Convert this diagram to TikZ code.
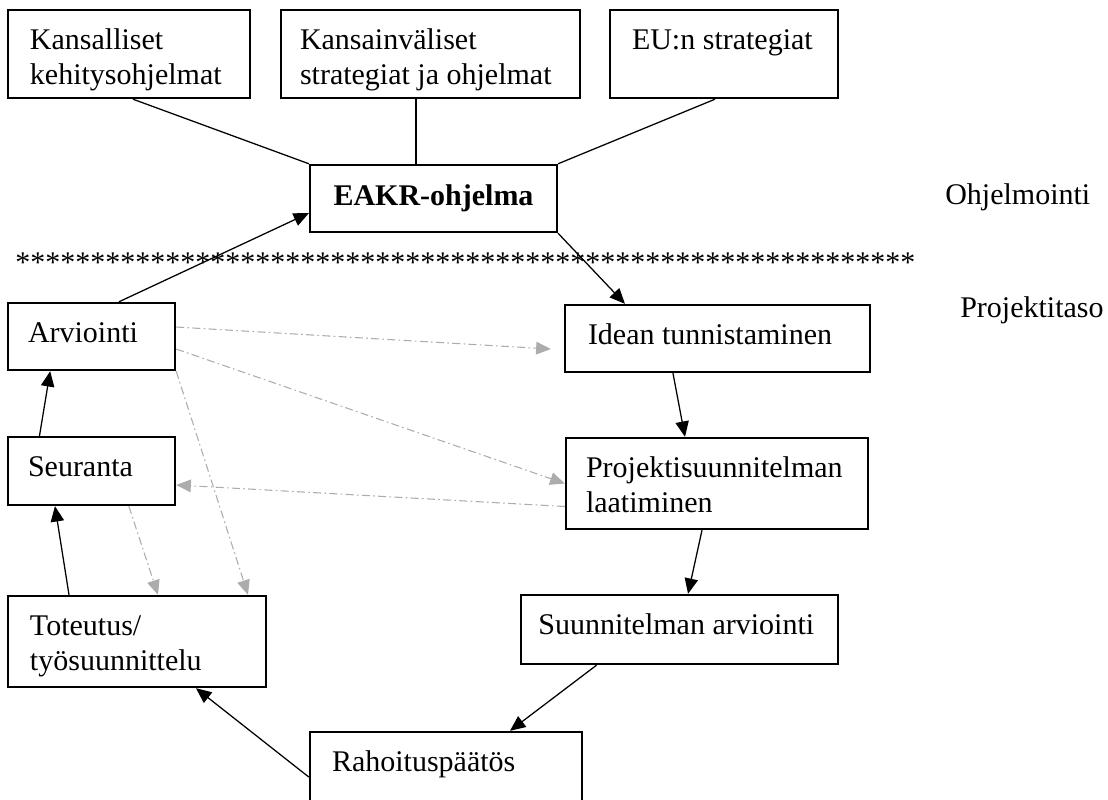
\documentclass[tikz,border=0pt]{standalone}
\usepackage{fontspec}
\setmainfont{Liberation Serif}
\usetikzlibrary{arrows.meta,calc}
\definecolor{grayline}{RGB}{172,172,172}
\newcommand{\boxtext}[3]{\parbox[c][#1][t]{#2}{\raggedright\rule{0pt}{29.5pt}#3}}
\begin{document}
\begin{tikzpicture}[x=0.75pt,y=-0.75pt,
  font=\fontsize{22.5pt}{26.25pt}\selectfont,
  box/.style={draw, line width=1.8pt, rectangle, inner ysep=0pt},
  conn/.style={line width=0.95pt, black},
  arr/.style={conn, -{Triangle[length=11.5pt,width=10pt]}},
  garr/.style={line width=0.8pt, color=grayline, dash pattern=on 6pt off 2.5pt on 1.2pt off 2.5pt, -{Triangle[length=11pt,width=9.5pt]}},
]
\useasboundingbox (0,0) rectangle (1108,800);

\node[box, inner xsep=16.5pt] (kans) at (129,54) {\boxtext{66pt}{148.5pt}{Kansalliset\\kehitysohjelmat}};
\node[box, inner xsep=14.25pt] (kint) at (430.5,54) {\boxtext{66pt}{195.75pt}{Kansainväliset\\strategiat ja ohjelmat}};
\node[box, inner xsep=16.5pt] (eu) at (724,54) {\boxtext{66pt}{138pt}{EU:n strategiat}};
\node[box, inner xsep=10pt] (eakr) at (433.5,198.5) {\parbox[c][50.25pt][t]{165pt}{\centering\bfseries\rule{0pt}{30pt}EAKR-ohjelma}};

\node[box, inner xsep=15pt] (arv) at (91.5,336.5) {\boxtext{50.25pt}{95.25pt}{Arviointi}};
\node[box, inner xsep=15pt] (seur) at (91.5,471) {\boxtext{51pt}{95.25pt}{Seuranta}};
\node[box, inner xsep=16.5pt] (tot) at (137,641.5) {\boxtext{68.25pt}{160.5pt}{Toteutus/\\työsuunnittelu}};

\node[box, inner xsep=17.25pt] (idea) at (717.5,338.5) {\boxtext{50.25pt}{194.25pt}{Idean tunnistaminen}};
\node[box, inner xsep=15pt] (proj) at (717,483.5) {\boxtext{68.25pt}{196.5pt}{Projektisuunnitelman\\laatiminen}};
\node[box, inner xsep=13pt] (suun) at (679.5,629.5) {\boxtext{51.75pt}{211.75pt}{Suunnitelman arviointi}};
\node[box, inner xsep=16.5pt] (rah) at (446,766.5) {\boxtext{51.75pt}{171pt}{Rahoituspäätös}};

\node[anchor=west, inner sep=0pt] (ohj) at (945,197) {Ohjelmointi};
\node[anchor=west, inner sep=0pt] (ptaso) at (960,310) {Projektitaso};
\node[anchor=base west, inner sep=0pt] (stars) at (15,272) {************************************************************};

% connectors
\draw[conn] ([xshift=3pt]kans.south) -- (eakr.north west);
\draw[conn] ([xshift=-10.9pt]kint.south) -- ([xshift=-10.9pt]kint.south |- eakr.north);
\draw[conn] ([xshift=-6.75pt]eu.south) -- (eakr.north east);
\draw[arr] ([xshift=20.6pt]arv.north) -- ([yshift=-10.9pt]eakr.west);
\draw[arr] (eakr.south east) -- ([xshift=-69.4pt]idea.north);
\draw[arr] ([xshift=-33.4pt]idea.south) -- ([xshift=-24pt]proj.north);
\draw[arr] ([xshift=-11.25pt]proj.south) -- ([xshift=6.4pt]suun.north);
\draw[arr] ([xshift=-62.25pt]suun.south) -- ([xshift=48pt]rah.north);
\draw[arr] ([yshift=-7.9pt]rah.west) -- ([xshift=44.25pt]tot.south);
\draw[arr] ([xshift=-51pt]tot.north) -- ([xshift=-27.4pt]seur.south);
\draw[arr] ([xshift=-39pt]seur.north) -- ([xshift=-31pt]arv.south);

% gray dash-dot connectors
\draw[garr] ([yshift=7.1pt]arv.east) -- ([xshift=-9.75pt,yshift=-7.9pt]idea.west);
\draw[garr] ([yshift=-9.4pt]arv.east) -- (proj.west);
\draw[garr] (arv.south east) -- ([xshift=83.25pt]tot.north);
\draw[garr] ([yshift=-17.25pt]proj.west) -- ([yshift=-10.5pt]seur.east);
\draw[garr] ([xshift=28pt]seur.south) -- ([xshift=15.75pt]tot.north);
\end{tikzpicture}
\end{document}
